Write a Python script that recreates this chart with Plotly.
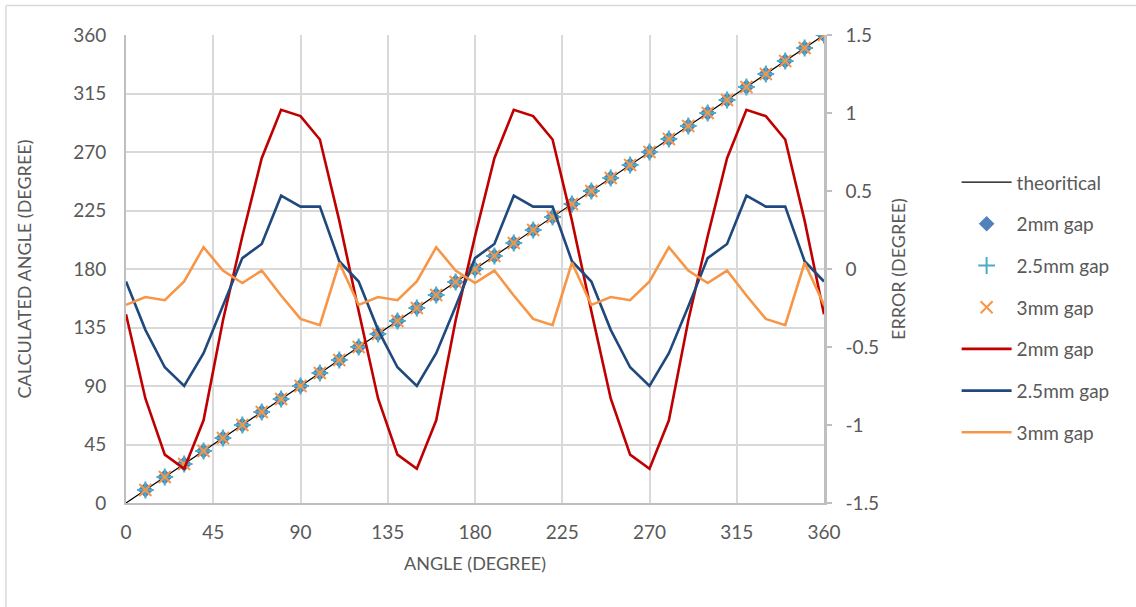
import plotly.graph_objects as go

# Angle grid (degrees)
angle_err = [0, 10, 20, 30, 40, 50, 60, 70, 80, 90, 100, 110, 120, 130, 140, 150, 160, 170, 180,
             190, 200, 210, 220, 230, 240, 250, 260, 270, 280, 290, 300, 310, 320, 330, 340, 350, 360]
angle_meas = [10, 20, 30, 40, 50, 60, 70, 80, 90, 100, 110, 120, 130, 140, 150, 160, 170, 180,
              190, 200, 210, 220, 230, 240, 250, 260, 270, 280, 290, 300, 310, 320, 330, 340, 350, 360]
theory_x = [0, 360]
theory_y = [0, 360]

# Calculated angle per gap size
calc_2mm = [10, 20, 30, 40, 50, 60, 70, 80, 90, 100, 110, 120, 130, 140, 150, 160, 170, 180,
            190, 200, 210, 220, 230, 240, 250, 260, 270, 280, 290, 300, 310, 320, 330, 340, 350, 360]
calc_25mm = [10, 20, 30, 40, 50, 60, 70, 80, 90, 100, 110, 120, 130, 140, 150, 160, 170, 180,
             190, 200, 210, 220, 230, 240, 250, 260, 270, 280, 290, 300, 310, 320, 330, 340, 350, 360]
calc_3mm = [10, 20, 30, 40, 50, 60, 70, 80, 90, 100, 110, 120, 130, 140, 150, 160, 170, 180,
            190, 200, 210, 220, 230, 240, 250, 260, 270, 280, 290, 300, 310, 320, 330, 340, 350, 360]

# Angle error per gap size (degrees)
err_2mm = [-0.29, -0.83, -1.19, -1.28, -0.97, -0.33, 0.21, 0.71, 1.02, 0.98, 0.83, 0.31,
           -0.27, -0.83, -1.19, -1.28, -0.97, -0.33, 0.21, 0.71, 1.02, 0.98, 0.83, 0.31,
           -0.27, -0.83, -1.19, -1.28, -0.97, -0.33, 0.21, 0.71, 1.02, 0.98, 0.83, 0.31, -0.29]
err_25mm = [-0.08, -0.39, -0.63, -0.75, -0.54, -0.24, 0.07, 0.16, 0.47, 0.40, 0.40, 0.05,
            -0.08, -0.39, -0.63, -0.75, -0.54, -0.24, 0.07, 0.16, 0.47, 0.40, 0.40, 0.05,
            -0.08, -0.39, -0.63, -0.75, -0.54, -0.24, 0.07, 0.16, 0.47, 0.40, 0.40, 0.05, -0.08]
err_3mm = [-0.23, -0.18, -0.20, -0.08, 0.14, -0.01, -0.09, -0.01, -0.17, -0.32, -0.36, 0.04,
           -0.23, -0.18, -0.20, -0.08, 0.14, -0.01, -0.09, -0.01, -0.17, -0.32, -0.36, 0.04,
           -0.23, -0.18, -0.20, -0.08, 0.14, -0.01, -0.09, -0.01, -0.17, -0.32, -0.36, 0.04, -0.23]

x_ticks = [0, 45, 90, 135, 180, 225, 270, 315, 360]
y_ticks = [0, 45, 90, 135, 180, 225, 270, 315, 360]
err_ticks = [-1.5, -1, -0.5, 0, 0.5, 1, 1.5]
err_tick_labels = ["-1.5", "-1", "-0.5", "0", "0.5", "1", "1.5"]

FONT = "Lato, 'Open Sans', sans-serif"
TXT = "#595959"
GRID = "#D9D9D9"
AXIS = "#BFBFBF"

fig = go.Figure()
fig.add_trace(go.Scatter(x=theory_x, y=theory_y, mode="lines", name="theoritical",
                         line=dict(color="black", width=1.2), legendgroup="g1"))
fig.add_trace(go.Scatter(x=angle_meas, y=calc_2mm, mode="markers", name="2mm gap",
                         marker=dict(symbol="diamond", size=12, color="#4F81BD"), legendgroup="g2"))
fig.add_trace(go.Scatter(x=angle_meas, y=calc_25mm, mode="markers", name="2.5mm gap",
                         marker=dict(symbol="cross-thin", size=12, color="#4BACC6",
                                     line=dict(color="#4BACC6", width=2)), legendgroup="g3"))
fig.add_trace(go.Scatter(x=angle_meas, y=calc_3mm, mode="markers", name="3mm gap",
                         marker=dict(symbol="x-thin", size=12, color="#F79646",
                                     line=dict(color="#F79646", width=2)), legendgroup="g4"))
fig.add_trace(go.Scatter(x=angle_err, y=err_2mm, mode="lines", name="2mm gap", yaxis="y2",
                         line=dict(color="#C00000", width=2.6), legendgroup="g5"))
fig.add_trace(go.Scatter(x=angle_err, y=err_25mm, mode="lines", name="2.5mm gap", yaxis="y2",
                         line=dict(color="#1F497D", width=2.6), legendgroup="g6"))
fig.add_trace(go.Scatter(x=angle_err, y=err_3mm, mode="lines", name="3mm gap", yaxis="y2",
                         line=dict(color="#F79646", width=2.6), legendgroup="g7"))

fig.update_layout(
    width=1136, height=607,
    margin=dict(l=126, r=312, t=35, b=104),
    paper_bgcolor="white", plot_bgcolor="white",
    font=dict(family=FONT, color=TXT, size=18),
    xaxis=dict(range=[0, 360], tickvals=x_ticks, showgrid=True, gridcolor=GRID,
               gridwidth=2, showline=True, linecolor=AXIS, linewidth=2,
               zeroline=False, ticks="", tickfont=dict(size=19, color=TXT),
               ticklabelstandoff=11,
               title=dict(text="ANGLE (DEGREE)", font=dict(size=18, color=TXT), standoff=16)),
    yaxis=dict(range=[0, 360], tickvals=y_ticks, showgrid=True, gridcolor=GRID,
               gridwidth=2, showline=True, linecolor=AXIS, linewidth=2,
               zeroline=False, ticks="", tickfont=dict(size=19, color=TXT),
               ticklabelstandoff=14,
               title=dict(text="CALCULATED ANGLE (DEGREE)", font=dict(size=18, color=TXT), standoff=37)),
    yaxis2=dict(range=[-1.5, 1.5], overlaying="y", side="right", tickvals=err_ticks,
                ticktext=err_tick_labels, showgrid=False, zeroline=False, showline=True,
                linecolor=AXIS, linewidth=2.5, ticks="outside", ticklen=5,
                tickcolor=AXIS, tickwidth=2, tickfont=dict(size=19, color=TXT),
                ticklabelstandoff=10,
                title=dict(text="ERROR (DEGREE)", font=dict(size=18, color=TXT), standoff=15)),
    legend=dict(x=1.19, y=0.726, xanchor="left", yanchor="top", font=dict(size=19, color=TXT),
                tracegroupgap=14, itemwidth=50, bgcolor="rgba(0,0,0,0)"),
    shapes=[
        dict(type="line", xref="paper", yref="paper", x0=-0.172, x1=1.6, y0=1.063, y1=1.063,
             line=dict(color=GRID, width=1.5)),
        dict(type="line", xref="paper", yref="paper", x0=-0.172, x1=-0.172, y0=-0.3, y1=1.063,
             line=dict(color=GRID, width=1.5)),
    ],
)

fig.write_html("out.html")
